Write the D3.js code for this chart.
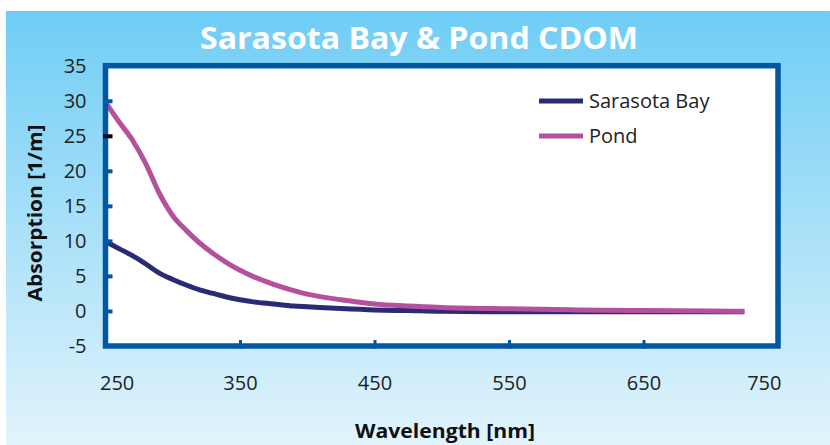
<!DOCTYPE html>
<html><head><meta charset="utf-8">
<script src="https://cdn.jsdelivr.net/npm/d3@7"></script>
<style>body{margin:0;background:#fff;} svg{display:block;}</style>
</head><body>
<svg id="c" width="830" height="445"></svg>
<script>
const wavelengths = [250,260,270,280,290,300,310,320,330,340,350,360,375,390,400,425,450,475,500,550,600,650,700,725];
const sarasotaBay = [9.9,8.9,7.9,6.7,5.4,4.5,3.7,3.0,2.5,2.0,1.6,1.3,1.0,0.7,0.6,0.35,0.15,0.05,-0.05,-0.1,-0.1,-0.1,-0.1,-0.1];
const pond = [29.8,27.0,24.4,21.0,16.8,13.6,11.5,9.7,8.2,6.9,5.8,4.9,3.8,2.9,2.4,1.6,1.0,0.7,0.5,0.3,0.15,0.05,0.0,-0.05];
const xTickLabels = [250,350,450,550,650,750];
const yTickLabels = [35,30,25,20,15,10,5,0,-5];
const seriesNames = ["Sarasota Bay","Pond"];
const seriesColors = ["#2b2a74","#b5509e"];

const svg = d3.select("#c");
const defs = svg.append("defs");
const g = defs.append("linearGradient").attr("id","bg").attr("x1",0).attr("y1",0).attr("x2",0).attr("y2",1);
g.append("stop").attr("offset","0%").attr("stop-color","#6fcdf5");
g.append("stop").attr("offset","100%").attr("stop-color","#e2f4fc");
svg.append("rect").attr("x",6).attr("y",11).attr("width",824).attr("height",434).attr("fill","url(#bg)");

const L=105.5, R=778, T=65.7, B=346;
const x = d3.scaleLinear().domain([250,750]).range([L,R]);
const y = d3.scaleLinear().domain([-5,35]).range([B,T]);

svg.append("rect").attr("x",L).attr("y",T).attr("width",R-L).attr("height",B-T)
  .attr("fill","#fff");

// title
svg.append("text").attr("x",419).attr("y",49).attr("text-anchor","middle")
  .attr("font-family","Open Sans").attr("font-weight",700).attr("font-size",31)
  .attr("fill","#fff").attr("textLength",438).attr("lengthAdjust","spacingAndGlyphs")
  .text("Sarasota Bay & Pond CDOM");

// lines
const line = d3.line().x((d,i)=>x(wavelengths[i])).y(d=>y(d)).curve(d3.curveMonotoneX);
[sarasotaBay,pond].forEach((s,k)=>{
  svg.append("path").datum(s).attr("d",line).attr("fill","none")
    .attr("stroke",seriesColors[k]).attr("stroke-width",5).attr("stroke-linejoin","round");
});

// frame
svg.append("rect").attr("x",L).attr("y",T).attr("width",R-L).attr("height",B-T)
  .attr("fill","none").attr("stroke","#0057a3").attr("stroke-width",5.5);

// y axis
const yAx = svg.append("g").attr("transform",`translate(${L},0)`)
  .call(d3.axisLeft(y).tickValues(yTickLabels).tickFormat(d=>String(d))
    .tickSizeInner(-7).tickSizeOuter(0).tickPadding(19));
yAx.select(".domain").remove();
yAx.selectAll(".tick line").attr("x1",-2.5).attr("stroke-width",4)
  .attr("stroke",d=>d===25?"#000":"#0057a3")
  .attr("display",d=>(d===35||d===-5)?"none":null);
yAx.selectAll(".tick text").attr("font-family","Open Sans").attr("font-size",20).attr("fill","#222");

// x axis
const xAx = svg.append("g").attr("transform",`translate(0,${B})`)
  .call(d3.axisBottom(x).tickValues(xTickLabels).tickFormat(d=>String(d))
    .tickSizeInner(-6).tickSizeOuter(0).tickPadding(30));
xAx.select(".domain").remove();
xAx.selectAll(".tick line").attr("y1",2.5).attr("stroke-width",3).attr("stroke","#0057a3")
  .attr("display",d=>(d===250||d===750)?"none":null);
xAx.selectAll(".tick text").attr("font-family","Open Sans").attr("font-size",20).attr("fill","#222")
  .attr("text-anchor",d=>d===250?"start":d===750?"end":"middle")
  .attr("dx",d=>d===250?-6:d===750?3:0);

// axis titles
svg.append("text").attr("x",445).attr("y",438).attr("text-anchor","middle")
  .attr("font-family","Open Sans").attr("font-weight",700).attr("font-size",19).attr("fill","#111")
  .attr("textLength",180).attr("lengthAdjust","spacingAndGlyphs").text("Wavelength [nm]");
svg.append("text").attr("transform","translate(42,213) rotate(-90)").attr("text-anchor","middle")
  .attr("font-family","Open Sans").attr("font-weight",700).attr("font-size",19).attr("fill","#111")
  .attr("textLength",177).attr("lengthAdjust","spacingAndGlyphs").text("Absorption [1/m]");

// legend
const lg = svg.append("g");
seriesNames.forEach((n,k)=>{
  const yy = 101 + k*35;
  lg.append("line").attr("x1",539).attr("x2",583).attr("y1",yy).attr("y2",yy)
    .attr("stroke",seriesColors[k]).attr("stroke-width",5);
  lg.append("text").attr("x",589).attr("y",yy+7).attr("font-family","Open Sans")
    .attr("font-size",20).attr("fill","#222").text(n);
});
</script>
</body></html>
